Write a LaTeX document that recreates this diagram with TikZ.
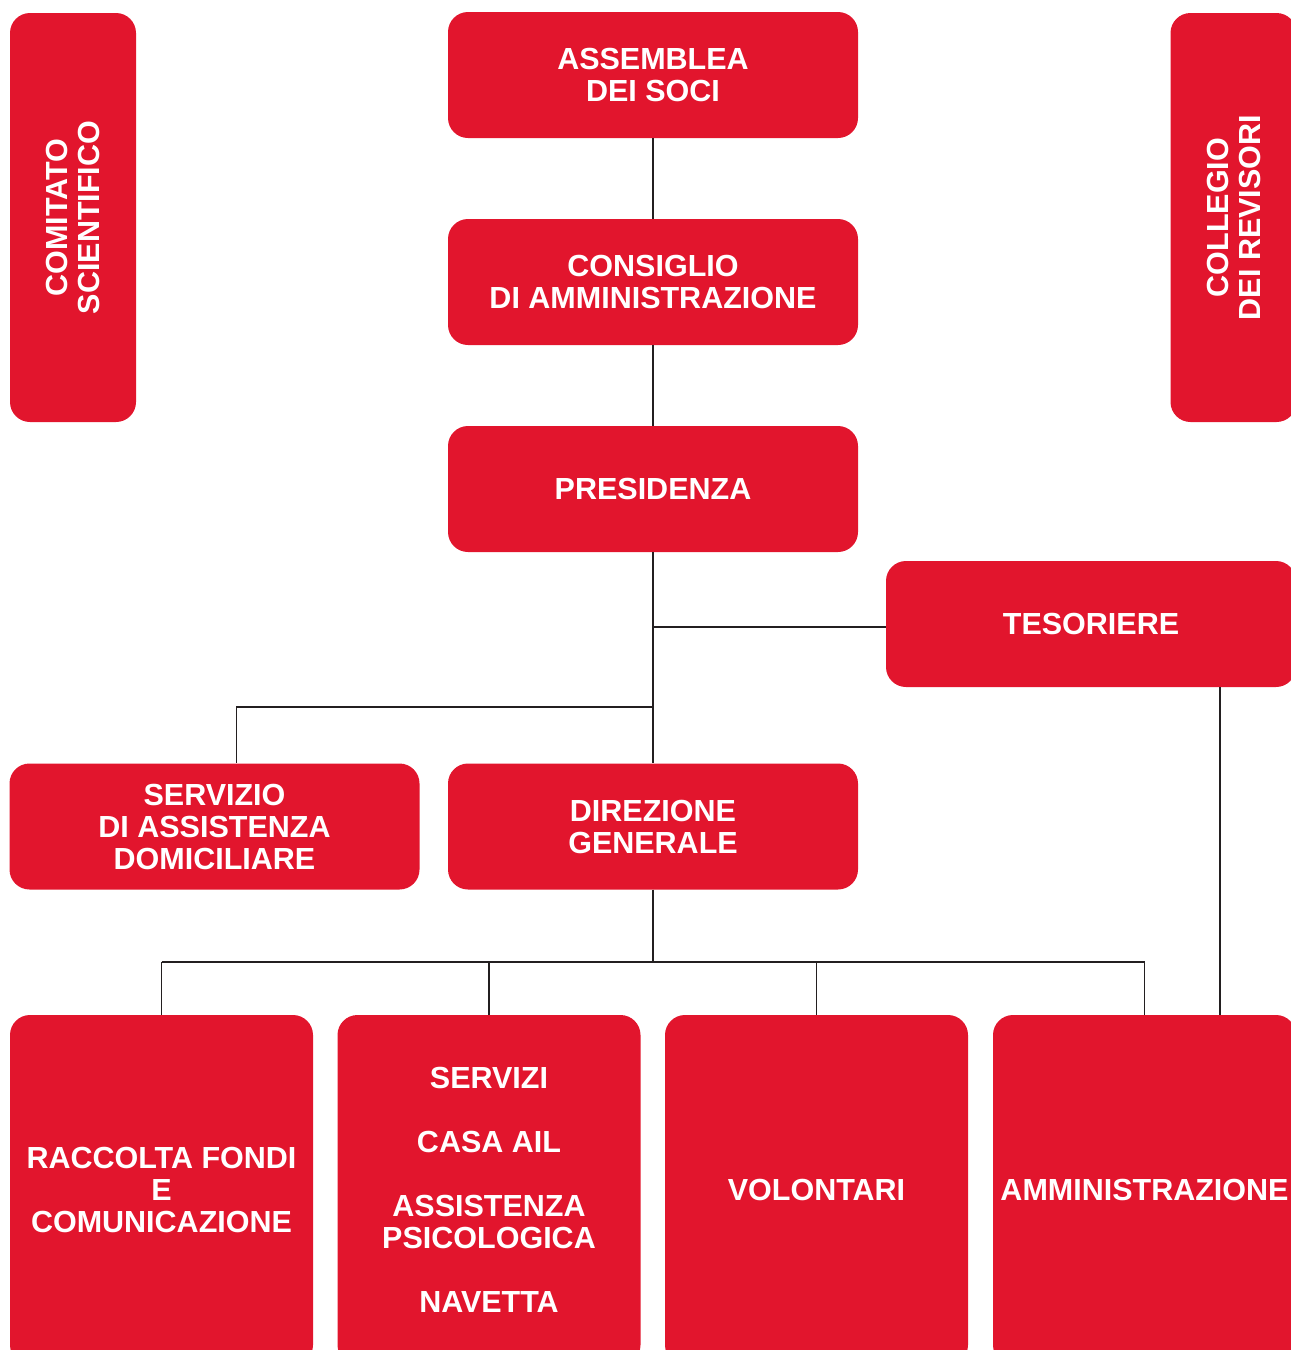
\documentclass[tikz,border=0pt]{standalone}
\usepackage{fontspec}
\usepackage{tikz}
\usetikzlibrary{positioning, calc}
\newfontfamily\ailfont[Scale=1.0]{Liberation Sans}
\definecolor{ailred}{RGB}{226,21,45}
\definecolor{linegray}{RGB}{35,31,32}
\tikzset{
  % Riquadri dell'organigramma
  box/.style={fill=ailred,rounded corners=20pt,text=white,align=center,inner sep=0,
    font=\ailfont\bfseries\fontsize{30.5}{32}\selectfont},
  box wide/.style={box,minimum width=410pt,minimum height=126pt},
  box tall/.style={box,rotate=90,minimum width=409pt,minimum height=126pt},
  box big/.style={box,minimum width=303pt,minimum height=350pt},
  % Collegamenti
  connect/.style={line width=1.3pt,linegray}
}
\begin{document}
\begin{tikzpicture}[x=1pt,y=-1pt]
    \useasboundingbox (0,0) rectangle (1291,1350);
    \clip (0,0) rectangle (1291,1350);
    % vertice
    \node[box wide] (assemblea) at (653,75) {ASSEMBLEA\\DEI SOCI};
    \node[box wide] (consiglio) at (653,282) {CONSIGLIO\\DI AMMINISTRAZIONE};
    \node[box wide] (presidenza) at (653,489) {PRESIDENZA};
    \node[box wide] (tesoriere) at (1091,624) {TESORIERE};
    % organi laterali
    \node[box tall] (comitato) at (73,217.5) {COMITATO\\SCIENTIFICO};
    \node[box tall] (collegio) at (1233.5,217.5) {COLLEGIO\\DEI REVISORI};
    % secondo livello
    \node[box wide] (servizio) at (214.5,826.5) {SERVIZIO\\DI ASSISTENZA\\DOMICILIARE};
    \node[box wide] (direzione) at (653,826.5) {DIREZIONE\\GENERALE};
    % aree operative
    \node[box big] (raccolta) at (161.5,1190) {RACCOLTA FONDI\\E\\COMUNICAZIONE};
    \node[box big] (servizi) at (489,1190) {SERVIZI\\[32pt]CASA AIL\\[32pt]ASSISTENZA\\PSICOLOGICA\\[32pt]NAVETTA};
    \node[box big] (volontari) at (816.5,1190) {VOLONTARI};
    \node[box big] (amministrazione) at (1144.5,1190) {AMMINISTRAZIONE};
    % collegamenti
    \coordinate (snodo) at (653,627);
    \coordinate (ramo) at (653,707);
    \coordinate (bus) at (653,962);
    \draw[connect] (assemblea) -- (consiglio);
    \draw[connect] (consiglio) -- (presidenza);
    \draw[connect] (presidenza) -- (direzione);
    \draw[connect] (snodo) -- (snodo -| tesoriere.west);
    \draw[connect] (ramo) -| ([xshift=22pt]servizio.north);
    \draw[connect] (direzione) -- (bus);
    \draw[connect] (raccolta.north |- bus) -- (amministrazione.north |- bus);
    \foreach \n in {raccolta,servizi,volontari,amministrazione}
      \draw[connect] (\n.north |- bus) -- (\n.north);
    \draw[connect] ([xshift=129pt]tesoriere.south) -- ([xshift=129pt]tesoriere.south |- amministrazione.north);
  \end{tikzpicture}
\end{document}
